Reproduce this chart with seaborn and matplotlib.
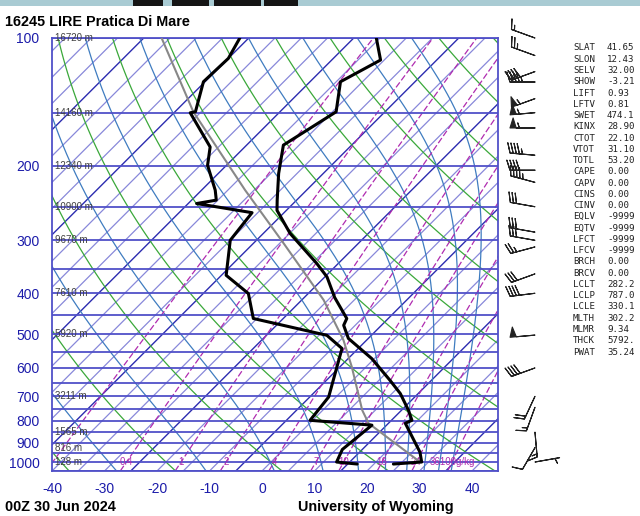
import numpy as np
import pandas as pd
import matplotlib
matplotlib.use("Agg")
import matplotlib.pyplot as plt
import matplotlib.transforms as mtransforms
from matplotlib.patches import Rectangle
from matplotlib.ticker import NullLocator, FixedLocator
import seaborn as sns

# ---------------- data ----------------
title = "16245 LIRE Pratica Di Mare"
date_label = "00Z 30 Jun 2024"
source_label = "University of Wyoming"

temp_p = [100, 112.7, 126.8, 149.3, 178.9, 208.7, 241.2, 254.9, 289.0, 340.2, 365.9,
          409.3, 458.7, 475.9, 511.1, 570.3, 641.6, 689.6, 754.6, 797.3, 810.2, 947.9, 1000, 1011]
temp_t = [-60.7, -55.7, -59.2, -54.3, -58.0, -53.5, -48.7, -46.8, -39.9, -29.1, -24.6,
          -19.2, -12.9, -12.2, -8.8, -0.5, 7.1, 11.6, 16.3, 18.9, 18.2, 26.5, 28.7, 23.7]

dew_p = [100, 111.7, 126.8, 149.3, 150.1, 180.7, 199.6, 228.5, 241.2, 245.7, 258.2, 299.9,
         362.8, 400.5, 458.7, 502.5, 539.8, 702.5, 797.3, 818.6, 934.1, 1000, 1011]
dew_t = [-86.7, -85.0, -85.3, -81.1, -81.9, -71.6, -68.6, -62.4, -60.3, -63.4, -51.1, -50.0,
         -44.1, -36.4, -30.7, -13.5, -8.1, -1.4, -0.5, 12.2, 11.2, 12.5, 16.8]

parcel_p = [100, 149.3, 228.5, 305.2, 415.1, 516, 596.9, 754.6, 810.2, 1000]
parcel_t = [-101.6, -81.5, -56.7, -39.2, -20.8, -9.4, -2.7, 7.5, 11.2, 28.4]

wind_p = [100, 110, 120, 127, 139, 150, 163, 189, 205, 219, 250, 287, 300, 311,
          360, 400, 502, 600, 700, 743, 850, 925, 1000]
wind_dir = [290, 290, 250, 270, 250, 265, 270, 275, 270, 285, 280, 280, 280, 255,
            250, 263, 265, 250, 205, 200, 175, 210, 80]
wind_kt = [15, 25, 40, 45, 55, 55, 55, 45, 40, 45, 30, 30, 30, 25,
           30, 40, 50, 40, 20, 15, 15, 10, 3]

height_p = [100, 150, 200, 250, 300, 400, 500, 700, 850, 925, 1000]
height_m = ["16720", "14160", "12340", "10900", "9670", "7610", "5920", "3211", "1565", "816", "128"]

mixr_values = [0.1, 0.4, 1, 2, 4, 7, 10, 16, 24, 36]
mixr_labels = ["", "0.4", "1", "2", "4", "7", "10", "16", "24", "36100g/kg"]

dry_theta_k = [233.15 + 20 * i for i in range(12)]
moist_theta_top_k = [223.15 + 20 * i for i in range(11)]

isobars = list(range(100, 1051, 50))
isotherms = list(range(-130, 46, 5))
p_ticks = [100, 200, 300, 400, 500, 600, 700, 800, 900, 1000]
t_ticks = [-40, -30, -20, -10, 0, 10, 20, 30, 40]

stat_keys = ["SLAT", "SLON", "SELV", "SHOW", "LIFT", "LFTV", "SWET", "KINX", "CTOT", "VTOT",
             "TOTL", "CAPE", "CAPV", "CINS", "CINV", "EQLV", "EQTV", "LFCT", "LFCV", "BRCH",
             "BRCV", "LCLT", "LCLP", "LCLE", "MLTH", "MLMR", "THCK", "PWAT"]
stat_vals = ["41.65", "12.43", "32.00", "-3.21", "0.93", "0.81", "474.1", "28.90", "22.10", "31.10",
             "53.20", "0.00", "0.00", "0.00", "0.00", "-9999", "-9999", "-9999", "-9999", "0.00",
             "0.00", "282.2", "787.0", "330.1", "302.2", "9.34", "5792.", "35.24"]

# ---------------- thermodynamics for background lines ----------------
def es_hpa(tk):
    return 6.112 * np.exp(17.67 * (tk - 273.15) / (tk - 29.65))

def rs(tk, p):
    e = es_hpa(tk)
    return 0.622 * e / (p - e)

def dtdlnp(tk, lnp):
    p = np.exp(lnp)
    r = rs(tk, p)
    return (287.04 * tk + 2.501e6 * r) / (1005.7 + 2.501e6 ** 2 * r * 0.622 / (287.04 * tk * tk))

def moist_from_top(theta_top):
    lnps = np.linspace(np.log(100.0), np.log(1050.0), 300)
    tk = theta_top * (0.1) ** 0.2857
    out = [tk]
    for i in range(len(lnps) - 1):
        x, h = lnps[i], lnps[i + 1] - lnps[i]
        k1 = dtdlnp(tk, x)
        k2 = dtdlnp(tk + h * k1 / 2, x + h / 2)
        k3 = dtdlnp(tk + h * k2 / 2, x + h / 2)
        k4 = dtdlnp(tk + h * k3, x + h)
        tk = tk + h * (k1 + 2 * k2 + 2 * k3 + k4) / 6
        out.append(tk)
    return np.exp(lnps), np.array(out) - 273.15

def td_from_w(w, p):
    e = (w / 1000.0) * p / (0.622 + w / 1000.0)
    lnr = np.log(e / 6.112)
    return 243.5 * lnr / (17.67 - lnr)

# ---------------- figure ----------------
sns.set_theme(style="white")
plt.rcParams['font.family'] = ['Liberation Sans', 'DejaVu Sans']

W, H = 640, 516
fig = plt.figure(figsize=(W / 100, H / 100), dpi=100)
fig.patch.set_facecolor('white')
L, R, TOP, BOT = 52, 498, 38, 471
ax = fig.add_axes([L / W, 1 - BOT / H, (R - L) / W, (BOT - TOP) / H])
ax.set_facecolor('white')
ax.set_yscale('log')
ax.set_xlim(-40, -40 + (R - L) / 5.25)
ax.set_ylim(1050, 100)

y0 = H - BOT
skew = mtransforms.Affine2D().translate(0, -y0).skew_deg(45, 0).translate(0, y0)
tr = ax.transData + skew

c_isobar = '#5050c8'
c_iso_l = '#8888da'
c_iso_d = '#2c2cb0'
c_dry = '#3aa83a'
c_moist = '#3f7cc0'
c_mix = '#b02cb0'
c_lab = '#1c1caa'

pp = np.geomspace(1050, 100, 120)

for t in isotherms:
    dark = (t % 20 == 15)
    ax.plot([t, t], [1050, 100], transform=tr, color=c_iso_d if dark else c_iso_l,
            lw=1.0 if dark else 0.9, zorder=1)

for th in dry_theta_k:
    tt = th * (pp / 1000.0) ** 0.2857 - 273.15
    ax.plot(tt, pp, transform=tr, color=c_dry, lw=0.9, zorder=2)

for th in moist_theta_top_k:
    ps, ts = moist_from_top(th)
    ax.plot(ts, ps, transform=tr, color=c_moist, lw=0.9, zorder=2)

for w in mixr_values:
    ax.plot(td_from_w(w, pp), pp, transform=tr, color=c_mix, lw=0.9, ls=(0, (5, 2)), zorder=2)

for p in isobars:
    ax.axhline(p, color=c_isobar, lw=1.3, zorder=3)

for w, lab in zip(mixr_values, mixr_labels):
    if lab:
        ax.text(td_from_w(w, 1000.0), 1000, lab, transform=tr, ha='center', va='center',
                fontsize=7, color=c_mix, zorder=4)

hx = mtransforms.blended_transform_factory(ax.transAxes, ax.transData)
for p, hm in zip(height_p, height_m):
    ax.text(0.006, p, f"{hm} m", transform=hx, ha='left', va='center', fontsize=7,
            color='#404040', zorder=4)

# sounding lines
df_t = pd.DataFrame({"p": temp_p, "t": temp_t})
df_d = pd.DataFrame({"p": dew_p, "t": dew_t})
df_par = pd.DataFrame({"p": parcel_p, "t": parcel_t})
sns.lineplot(data=df_par, x="t", y="p", sort=False, estimator=None, ax=ax, color='#888888',
             lw=1.5, transform=tr, zorder=5)
sns.lineplot(data=df_t, x="t", y="p", sort=False, estimator=None, ax=ax, color='black',
             lw=2.2, transform=tr, zorder=6)
sns.lineplot(data=df_d, x="t", y="p", sort=False, estimator=None, ax=ax, color='black',
             lw=2.2, transform=tr, zorder=6)
ax.set_xlim(-40, -40 + (R - L) / 5.25)
ax.set_ylim(1050, 100)
ax.set_xlabel("")
ax.set_ylabel("")

ax.yaxis.set_minor_locator(NullLocator())
ax.yaxis.set_major_locator(FixedLocator(p_ticks))
ax.set_yticklabels([str(p) for p in p_ticks])
ax.set_xticks(t_ticks)
ax.set_xticklabels([str(t) for t in t_ticks])
ax.tick_params(axis='both', length=0, labelsize=10, labelcolor=c_lab)
ax.tick_params(axis='x', pad=8)
ax.tick_params(axis='y', pad=9)
for s in ax.spines.values():
    s.set_color(c_isobar)
    s.set_linewidth(1.3)

# wind barbs
axw = fig.add_axes([500 / W, 1 - BOT / H, 60 / W, (BOT - TOP) / H])
axw.set_yscale('log')
axw.set_ylim(1050, 100)
axw.set_xlim(0, 1)
axw.axis('off')
wd = np.deg2rad(np.array(wind_dir, dtype=float))
ws = np.array(wind_kt, dtype=float)
u = -ws * np.sin(wd)
v = -ws * np.cos(wd)
axw.barbs(np.full(len(wind_p), 0.583), wind_p, u, v, length=6.0, linewidth=0.8,
          color='#222222', sizes=dict(emptybarb=0.0), clip_on=False)

# texts
fig.text(5 / W, 1 - 22 / H, title, fontsize=10.4, fontweight='bold', ha='left', va='center', color='black')
fig.text(5 / W, 1 - 507 / H, date_label, fontsize=10.4, fontweight='bold', ha='left', va='center', color='black')
fig.text(298 / W, 1 - 507 / H, source_label, fontsize=10.4, fontweight='bold', ha='left', va='center', color='black')
for i, (k, val) in enumerate(zip(stat_keys, stat_vals)):
    yy = 48 + i * 11.26
    fig.text(573 / W, 1 - yy / H, k, fontsize=6.6, family='DejaVu Sans Mono', ha='left', va='center', color='#222222')
    fig.text(607 / W, 1 - yy / H, val, fontsize=6.6, family='DejaVu Sans Mono', ha='left', va='center', color='#222222')

# screenshot top strip
fig.patches.append(Rectangle((0, 1 - 6 / H), 1, 6 / H, transform=fig.transFigure,
                             facecolor='#a9cbd3', edgecolor='none', zorder=0))
for x0, x1 in [(133, 163), (172, 209), (214, 261), (264, 298)]:
    fig.patches.append(Rectangle((x0 / W, 1 - 6 / H), (x1 - x0) / W, 6 / H, transform=fig.transFigure,
                                 facecolor='#151515', edgecolor='none', zorder=1))

fig.savefig("out.png", dpi=100)
